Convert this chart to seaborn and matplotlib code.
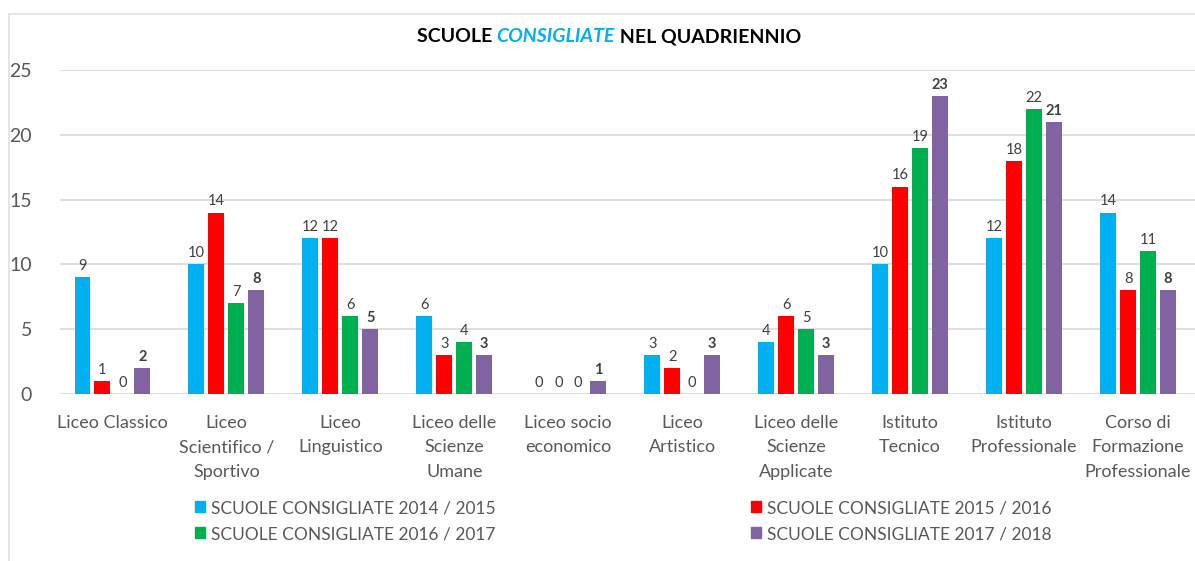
import numpy as np
import pandas as pd
import seaborn as sns
import matplotlib.pyplot as plt
from matplotlib.patches import Patch
from matplotlib.lines import Line2D

categories = ['Liceo Classico', 'Liceo\nScientifico /\nSportivo', 'Liceo\nLinguistico',
              'Liceo delle\nScienze\nUmane', 'Liceo socio\neconomico', 'Liceo\nArtistico',
              'Liceo delle\nScienze\nApplicate', 'Istituto\nTecnico', 'Istituto\nProfessionale',
              'Corso di\nFormazione\nProfessionale']
series = ['SCUOLE CONSIGLIATE 2014 / 2015', 'SCUOLE CONSIGLIATE 2015 / 2016',
          'SCUOLE CONSIGLIATE 2016 / 2017', 'SCUOLE CONSIGLIATE 2017 / 2018']
v_2014 = [9, 10, 12, 6, 0, 3, 4, 10, 12, 14]
v_2015 = [1, 14, 12, 3, 0, 2, 6, 16, 18, 8]
v_2016 = [0, 7, 6, 4, 0, 0, 5, 19, 22, 11]
v_2017 = [2, 8, 5, 3, 1, 3, 3, 23, 21, 8]
colors = ['#00B0F0', '#FF0000', '#00B050', '#8064A2']

rows = []
for s, vals in zip(series, [v_2014, v_2015, v_2016, v_2017]):
    for c, v in zip(categories, vals):
        rows.append({'cat': c, 'serie': s, 'val': v})
df = pd.DataFrame(rows)

sns.set_style('white')
plt.rcParams['font.family'] = ['Lato', 'DejaVu Sans']

fig = plt.figure(figsize=(11.95, 5.61), dpi=100)
ax = fig.add_axes([60 / 1195, 1 - 394 / 561, 1 - 60 / 1195, (394 - 70) / 561])

sns.barplot(data=df, x='cat', y='val', hue='serie', palette=colors, order=categories,
            hue_order=series, width=0.7, gap=0.2, ax=ax, legend=False, linewidth=0,
            saturation=1)

for i, cont in enumerate(ax.containers):
    ax.bar_label(cont, padding=3, fontsize=10.5, color='#404040',
                 fontweight='bold' if i == 3 else 'normal')

ax.set_ylim(0, 25)
ax.set_xlim(-0.46, 9.5)
ax.set_yticks([0, 5, 10, 15, 20, 25])
ax.set_xticks(range(len(categories)))
ax.set_xticklabels(categories, linespacing=1.65, va='top')
ax.yaxis.grid(True, color='#D9D9D9', linewidth=1.2)
ax.set_axisbelow(True)
for sp in ax.spines.values():
    sp.set_visible(False)
ax.tick_params(axis='y', length=0, pad=20, labelsize=14, labelcolor='#595959')
ax.tick_params(axis='x', length=0, pad=15, labelsize=13, labelcolor='#595959')
ax.set_xlabel('')
ax.set_ylabel('')

# titolo con parola evidenziata
fig.canvas.draw()
r = fig.canvas.get_renderer()
ty = 1 - 37 / 561
mid = fig.text(0, ty, 'CONSIGLIATE', fontsize=14, fontweight='bold', fontstyle='italic',
               color='#00B0F0', va='center', ha='left')
w_mid = mid.get_window_extent(r).width / fig.bbox.width
left_t = fig.text(0, ty, 'SCUOLE ', fontsize=14, fontweight='bold', color='black', va='center', ha='left')
right_t = fig.text(0, ty, ' NEL QUADRIENNIO', fontsize=14, fontweight='bold', color='black', va='center', ha='left')
w_l = left_t.get_window_extent(r).width / fig.bbox.width
w_r = right_t.get_window_extent(r).width / fig.bbox.width
x0 = 609 / 1195 - (w_l + w_mid + w_r) / 2
left_t.set_x(x0)
mid.set_x(x0 + w_l)
right_t.set_x(x0 + w_l + w_mid)

# legenda su due colonne
handles = [Patch(color=c) for c in colors]
leg_kw = dict(loc='upper left', frameon=False, fontsize=12.5, handlelength=0.6,
              handleheight=0.6, handletextpad=0.3, labelspacing=0.58, labelcolor='#595959',
              borderaxespad=0, borderpad=0)
fig.legend([handles[0], handles[2]], [series[0], series[2]],
           bbox_to_anchor=(195 / 1195, 1 - 500 / 561), **leg_kw)
fig.legend([handles[1], handles[3]], [series[1], series[3]],
           bbox_to_anchor=(751 / 1195, 1 - 500 / 561), **leg_kw)

# righe del foglio sullo sfondo
fig.add_artist(Line2D([9 / 1195, 9 / 1195], [0, 1 - 14 / 561], color='#E0E0E0', lw=1.2))
fig.add_artist(Line2D([9 / 1195, 1], [1 - 14 / 561, 1 - 14 / 561], color='#E0E0E0', lw=1.2))

fig.savefig('out.png', dpi=100)
